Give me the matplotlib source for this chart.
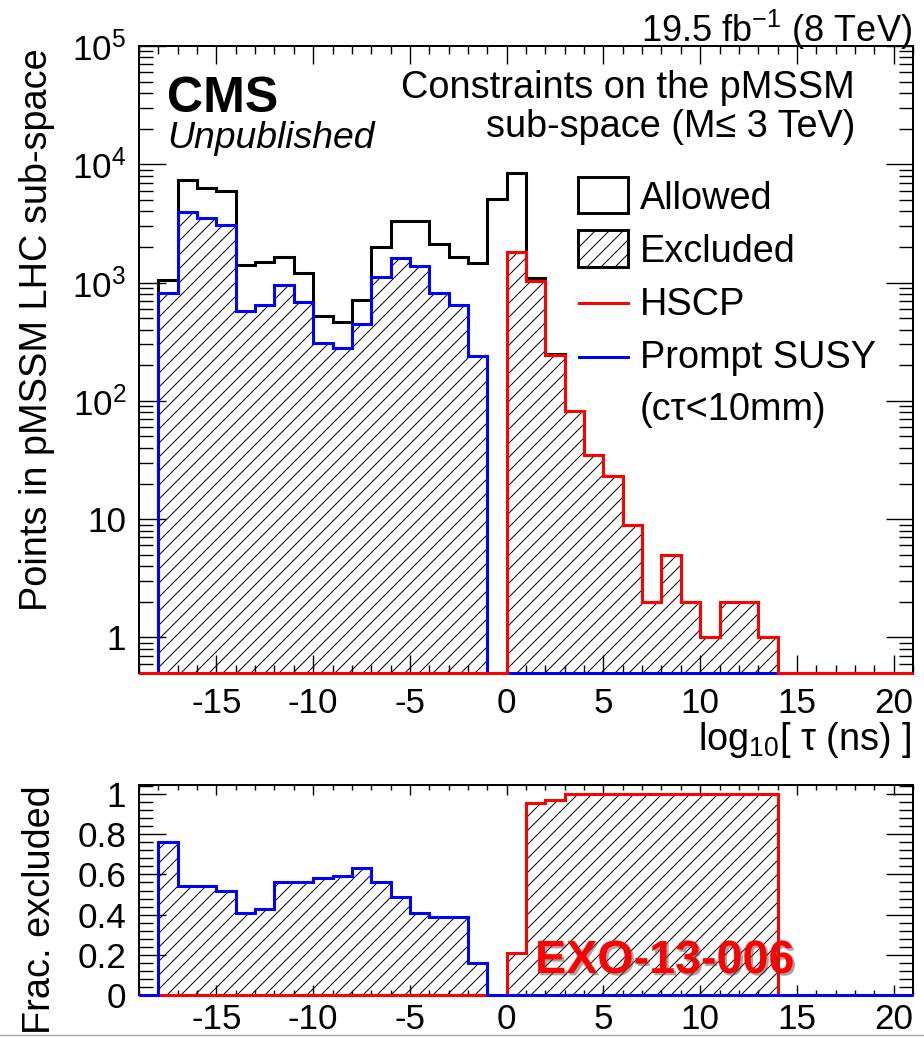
import numpy as np
import matplotlib.pyplot as plt
import matplotlib.patheffects as pe
from matplotlib.patches import Rectangle
from matplotlib.lines import Line2D
from matplotlib.ticker import FixedLocator, FixedFormatter, MultipleLocator, LogLocator, NullFormatter

plt.rcParams['font.family'] = ['Liberation Sans', 'DejaVu Sans']
plt.rcParams['mathtext.fontset'] = 'custom'
plt.rcParams['mathtext.rm'] = 'Liberation Sans'
plt.rcParams['mathtext.it'] = 'Liberation Sans:italic'
plt.rcParams['mathtext.bf'] = 'Liberation Sans:bold'
plt.rcParams['hatch.linewidth'] = 0.85
plt.rcParams['hatch.color'] = 'black'
plt.rcParams['axes.unicode_minus'] = False

# unit-width bins in log10(tau / ns)
# allowed points, bins -18 .. 13
allowed = [1050, 7350, 6300, 5900, 1400, 1500, 1650, 1200, 525, 465, 710, 1980,
           3300, 3300, 2100, 1650, 1450, 5050,
           8500, 1100, 250, 82, 35, 23, 9, 2, 5, 2, 1, 2, 2, 1]
# excluded by prompt SUSY searches, bins -18 .. -1
prompt_susy = [820, 3930, 3520, 3090, 575, 646, 957, 690, 310, 278, 450, 1120,
               1620, 1370, 815, 646, 240, 0]
# excluded by HSCP search, bins 0 .. 13
hscp = [1800, 1040, 245, 82, 35, 23, 9, 2, 5, 2, 1, 2, 2, 1]

# fraction excluded (lower panel)
frac_susy = [0.76, 0.54, 0.54, 0.52, 0.41, 0.43, 0.56, 0.56, 0.58, 0.59, 0.63,
             0.56, 0.49, 0.41, 0.39, 0.39, 0.16, 0.0]
frac_hscp = [0.21, 0.955, 0.97, 1, 1, 1, 1, 1, 1, 1, 1, 1, 1, 1]

x_ticks = [-15, -10, -5, 0, 5, 10, 15, 20]
x_ticklabels = ['-15', '-10', '-5', '0', '5', '10', '15', '20']
y_ticks = [1, 10, 100, 1e3, 1e4, 1e5]
y_ticklabels = ['1', '10', '$10^{2}$', '$10^{3}$', '$10^{4}$', '$10^{5}$']
frac_ticks = [0, 0.2, 0.4, 0.6, 0.8, 1]
frac_ticklabels = ['0', '0.2', '0.4', '0.6', '0.8', '1']

xlo, xhi = -19, 21
edges = np.arange(xlo, xhi + 1)


def full(vals, start):
    out = np.zeros(len(edges) - 1)
    i = start - xlo
    out[i:i + len(vals)] = vals
    return out


W, H, DPI = 924, 1037, 84
fig = plt.figure(figsize=(W / DPI, H / DPI), dpi=DPI)


def box(l, t, r, b):
    return [l / W, 1 - b / H, (r - l) / W, (b - t) / H]


ax = fig.add_axes(box(139, 46, 913, 673))
ax2 = fig.add_axes(box(139, 785, 913, 995))

LW = 2.6
ymin = 0.5

# ---- top panel
ax.set_yscale('log')
ax.set_xlim(xlo, xhi)
ax.set_ylim(ymin, 1e5)

excl = np.maximum(full(prompt_susy, -18), full(hscp, 0))
ex = np.where(excl > 0, excl, ymin)
ax.fill_between(edges, np.append(ex, ex[-1]), ymin, step='post', facecolor='none',
                edgecolor='black', hatch='//', linewidth=0, zorder=1)


def outline(a, vals, start, color, z, floor):
    v = full(vals, start)
    v = np.where(v > 0, v, floor)
    a.stairs(v, edges, baseline=None, color=color, lw=LW, zorder=z, clip_on=False)


outline(ax, allowed, -18, 'black', 3, ymin)
outline(ax, prompt_susy, -18, '#0000ff', 4, ymin)
outline(ax, hscp, 0, '#ff0000', 5, ymin)

ax.yaxis.set_major_locator(FixedLocator(y_ticks))
ax.yaxis.set_major_formatter(FixedFormatter(y_ticklabels))
ax.yaxis.set_minor_locator(LogLocator(base=10, subs=np.arange(2, 10)))
ax.yaxis.set_minor_formatter(NullFormatter())

# ---- lower panel
ax2.set_xlim(xlo, xhi)
ax2.set_ylim(0, 1.045)
fs = np.maximum(full(frac_susy, -18), full(frac_hscp, 0))
ax2.fill_between(edges, np.append(fs, fs[-1]), 0, step='post', facecolor='none',
                 edgecolor='black', hatch='//', linewidth=0, zorder=1)
outline(ax2, frac_hscp, 0, '#ff0000', 4, 0)
outline(ax2, frac_susy, -18, '#0000ff', 5, 0)
ax2.yaxis.set_major_locator(FixedLocator(frac_ticks))
ax2.yaxis.set_major_formatter(FixedFormatter(frac_ticklabels))
ax2.yaxis.set_minor_locator(MultipleLocator(0.04))

for a in (ax, ax2):
    a.xaxis.set_major_locator(FixedLocator(x_ticks))
    a.xaxis.set_major_formatter(FixedFormatter(x_ticklabels))
    a.xaxis.set_minor_locator(MultipleLocator(1))
    a.tick_params(which='both', direction='in', top=True, right=True,
                  width=1.2, colors='black', labelsize=30)
    for s in a.spines.values():
        s.set_linewidth(1.7)

ax.tick_params(axis='x', which='major', length=15.5, pad=12)
ax.tick_params(axis='x', which='minor', length=7)
ax.tick_params(axis='y', which='major', length=23, pad=11)
ax.tick_params(axis='y', which='minor', length=12)
ax2.tick_params(axis='x', which='major', length=8.5, pad=7)
ax2.tick_params(axis='x', which='minor', length=4.5)
ax2.tick_params(axis='y', which='major', length=23, pad=11)
ax2.tick_params(axis='y', which='minor', length=12)


def fx(x):
    return x / W


def fy(y):
    return 1 - y / H


TXT = 32.5

# ---- texts
fig.text(fx(912), fy(42), '19.5 fb$^{-1}$ (8 TeV)', ha='right', va='baseline', fontsize=31)
fig.text(fx(167), fy(112), 'CMS', weight='bold', fontsize=43, va='baseline')
fig.text(fx(167), fy(148), 'Unpublished', style='italic', fontsize=32, va='baseline')
fig.text(fx(855), fy(97.6), 'Constraints on the pMSSM', ha='right', va='baseline', fontsize=TXT)
fig.text(fx(855), fy(137), 'sub-space (M\u2264 3 TeV)', ha='right', va='baseline', fontsize=TXT)

fig.text(fx(37), fy(48), 'Points in pMSSM LHC sub-space', rotation=90,
         ha='center', va='top', fontsize=TXT)
fig.text(fx(40), fy(785), 'Frac. excluded', rotation=90, ha='center', va='top', fontsize=TXT)
fig.text(fx(912), fy(750), 'log$_{10}$[ \u03c4 (ns) ]', ha='right', va='baseline', fontsize=TXT)

fig.text(fx(535), fy(973), 'EXO-13-006', color='#ff0000', weight='bold', fontsize=40,
         va='baseline',
         path_effects=[pe.withSimplePatchShadow(offset=(2, -2), shadow_rgbFace='0.3', alpha=0.5)])

# ---- legend
fig.add_artist(Rectangle((fx(578), fy(213)), 50 / W, 36 / H, transform=fig.transFigure,
                         facecolor='none', edgecolor='black', lw=2.5))
fig.add_artist(Rectangle((fx(578), fy(267)), 50 / W, 37 / H, transform=fig.transFigure,
                         facecolor='none', edgecolor='black', lw=2.5, hatch='//'))
fig.add_artist(Line2D([fx(579), fx(628)], [fy(303)] * 2, color='#ff0000', lw=LW))
fig.add_artist(Line2D([fx(579), fx(628)], [fy(357)] * 2, color='#0000ff', lw=LW))
legend_labels = ['Allowed', 'Excluded', 'HSCP', 'Prompt SUSY', '(c\u03c4<10mm)']
for lab, yb in zip(legend_labels, [209, 262, 315, 368, 420]):
    fig.text(fx(640), fy(yb), lab, va='baseline', fontsize=TXT)

fig.add_artist(Line2D([0, 1], [fy(1035)] * 2, color='0.65', lw=1.2))

fig.savefig('out.png', dpi=DPI)
